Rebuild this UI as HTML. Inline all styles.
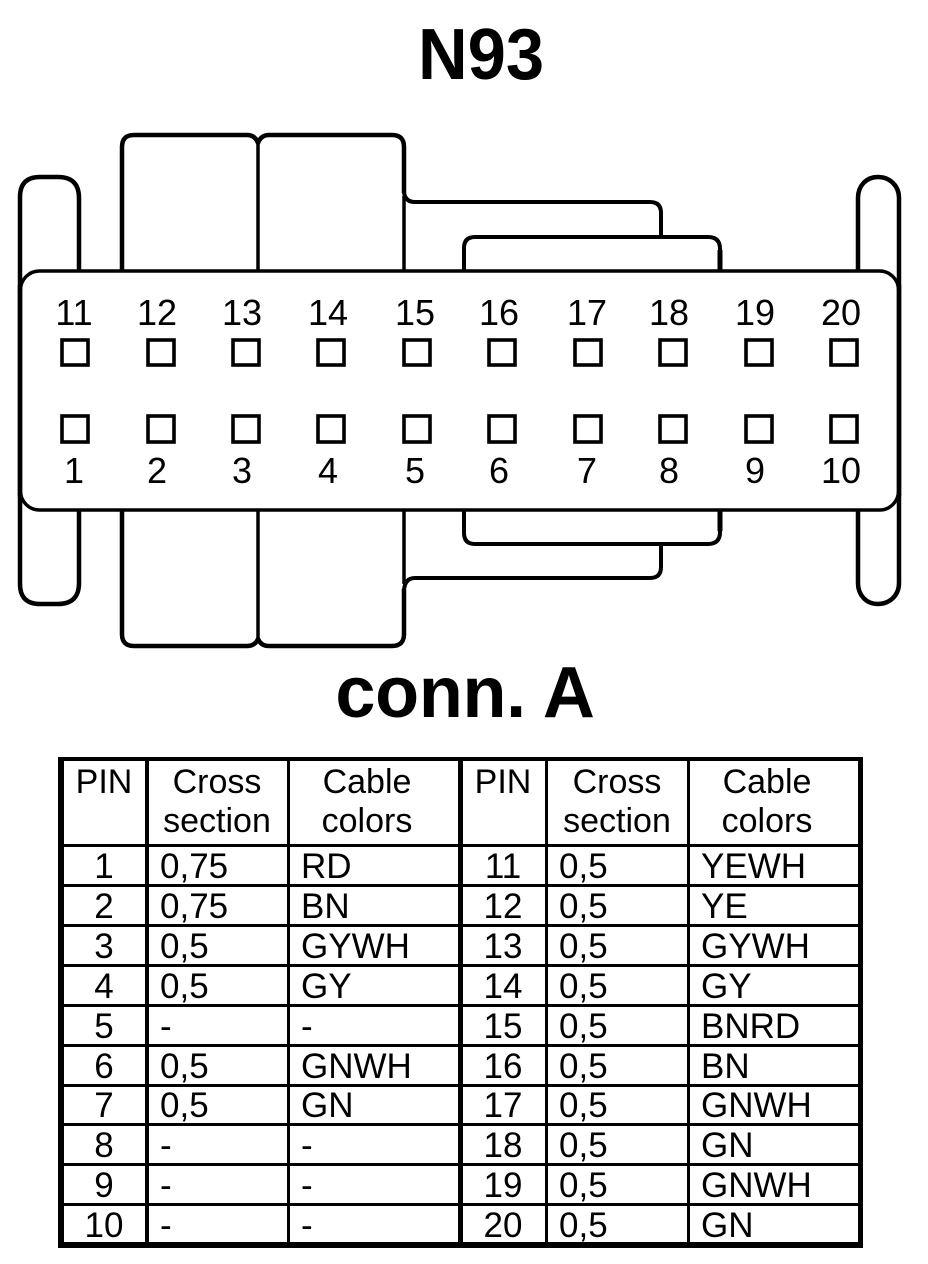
<!DOCTYPE html>
<html>
<head>
<meta charset="utf-8">
<style>
html,body{margin:0;padding:0;background:#fff;width:928px;height:1264px;overflow:hidden}
svg{display:block}
text{font-family:"Liberation Sans",Arial,sans-serif;fill:#000}
.t{font-size:72px;font-weight:bold;text-anchor:middle}
.n{font-size:36px;text-anchor:middle}
.h{font-size:34px;text-anchor:middle}
.c{font-size:35px;text-anchor:middle}
.l{font-size:35px}
</style>
</head>
<body>
<svg width="928" height="1264" viewBox="0 0 928 1264" xmlns="http://www.w3.org/2000/svg">
<rect width="928" height="1264" fill="#fff"/>
<text class="t" transform="translate(481 79) scale(0.955 1)" x="0" y="0">N93</text>
<text class="t" x="465" y="717" letter-spacing="-0.300">conn. A</text>

<g fill="none" stroke="#000" stroke-linejoin="round">
<!-- latches -->
<path d="M79,272 V198 Q79,177 58,177 H40 Q20,177 20,197 V584 Q20,604 40,604 H58 Q79,604 79,583 V510" stroke-width="4.500"/>
<path d="M858,272 V198 C858,186 866,177 878,177 C890,177 899,186 899,198 V583 C899,595 890,604 878,604 C866,604 858,595 858,583 V510" stroke-width="4.500"/>
<!-- top tabs -->
<path d="M122,271 V147 Q122,135 134,135 H247 Q255,135 258,143 Q261,135 269,135 H392 Q404,135 404,147 V193" stroke-width="4.500"/>
<path d="M258,143 V271" stroke-width="3.500"/>
<path d="M404,192 Q405,202 415,202 H650 Q661,202 661,213 V237" stroke-width="4"/>
<path d="M404,196 V271" stroke-width="3.500"/>
<path d="M464,271 V248 Q464,237 475,237 H708 Q720,237 720,249 V271" stroke-width="4"/>
<path d="M720,250 V271" stroke-width="5"/>
<!-- bottom tabs -->
<path d="M122,510 V634 Q122,646 134,646 H247 Q255,646 258,639 Q261,646 269,646 H392 Q404,646 404,634 V589" stroke-width="4.500"/>
<path d="M258,639 V510" stroke-width="3.500"/>
<path d="M404,590 Q405,578 415,578 H650 Q661,578 661,567 V545" stroke-width="4"/>
<path d="M404,584 V510" stroke-width="3.500"/>
<path d="M464,510 V533 Q464,544 475,544 H708 Q720,544 720,532 V510" stroke-width="4"/>
<path d="M720,531 V510" stroke-width="5"/>
<!-- body -->
<rect x="20.500" y="271" width="878" height="239" rx="19" ry="19" fill="#fff" stroke-width="3.500"/>
<path d="M20,285 V496" stroke-width="4.500"/>
<path d="M899,285 V496" stroke-width="4.500"/>
<!-- pins -->
<g stroke-width="3.600" fill="#fff" stroke-linejoin="miter">
<rect x="62" y="340" width="26" height="25"/><rect x="148" y="340" width="26" height="25"/><rect x="233" y="340" width="26" height="25"/><rect x="318" y="340" width="26" height="25"/><rect x="404" y="340" width="26" height="25"/>
<rect x="489" y="340" width="26" height="25"/><rect x="575" y="340" width="26" height="25"/><rect x="660" y="340" width="26" height="25"/><rect x="746" y="340" width="26" height="25"/><rect x="831" y="340" width="26" height="25"/>
<rect x="62" y="416" width="26" height="26"/><rect x="148" y="416" width="26" height="26"/><rect x="233" y="416" width="26" height="26"/><rect x="318" y="416" width="26" height="26"/><rect x="404" y="416" width="26" height="26"/>
<rect x="489" y="416" width="26" height="26"/><rect x="575" y="416" width="26" height="26"/><rect x="660" y="416" width="26" height="26"/><rect x="746" y="416" width="26" height="26"/><rect x="831" y="416" width="26" height="26"/>
</g>
</g>

<!-- pin numbers -->
<text class="n" x="74" y="325">11</text><text class="n" x="157" y="325">12</text><text class="n" x="242" y="325">13</text><text class="n" x="328" y="325">14</text><text class="n" x="415" y="325">15</text>
<text class="n" x="499" y="325">16</text><text class="n" x="587" y="325">17</text><text class="n" x="669" y="325">18</text><text class="n" x="755" y="325">19</text><text class="n" x="841" y="325">20</text>
<text class="n" x="74" y="483">1</text><text class="n" x="157" y="483">2</text><text class="n" x="242" y="483">3</text><text class="n" x="328" y="483">4</text><text class="n" x="415" y="483">5</text>
<text class="n" x="499" y="483">6</text><text class="n" x="587" y="483">7</text><text class="n" x="669" y="483">8</text><text class="n" x="755" y="483">9</text><text class="n" x="841" y="483">10</text>

<!-- table -->
<g fill="#000" shape-rendering="crispEdges">
<rect x="58" y="757" width="805" height="4"/>
<rect x="58" y="1242" width="805" height="6"/>
<rect x="58" y="757" width="6" height="491"/>
<rect x="858" y="757" width="5" height="491"/>
<rect x="145" y="757" width="4" height="491"/>
<rect x="287" y="757" width="3" height="491"/>
<rect x="458" y="757" width="5" height="491"/>
<rect x="545" y="757" width="3" height="491"/>
<rect x="687" y="757" width="3" height="491"/>
<rect x="58" y="844" width="805" height="3"/>
<rect x="58" y="884" width="805" height="3"/>
<rect x="58" y="924" width="805" height="3"/>
<rect x="58" y="964" width="805" height="3"/>
<rect x="58" y="1004" width="805" height="3"/>
<rect x="58" y="1044" width="805" height="3"/>
<rect x="58" y="1084" width="805" height="3"/>
<rect x="58" y="1123" width="805" height="3"/>
<rect x="58" y="1163" width="805" height="3"/>
<rect x="58" y="1203" width="805" height="3"/>
</g>

<text class="h" x="104" y="793">PIN</text>
<text class="h" x="217" y="793">Cross</text><text class="h" x="217" y="832">section</text>
<text class="h" x="367" y="793">Cable</text><text class="h" x="367" y="832">colors</text>
<text class="h" x="503" y="793">PIN</text>
<text class="h" x="617" y="793">Cross</text><text class="h" x="617" y="832">section</text>
<text class="h" x="767" y="793">Cable</text><text class="h" x="767" y="832">colors</text>

<text class="c" x="104" y="878">1</text><text class="l" x="160" y="878">0,75</text><text class="l" x="301" y="878">RD</text>
<text class="c" x="503" y="878">11</text><text class="l" x="559" y="878">0,5</text><text class="l" x="701" y="878">YEWH</text>

<text class="c" x="104" y="918">2</text><text class="l" x="160" y="918">0,75</text><text class="l" x="301" y="918">BN</text>
<text class="c" x="503" y="918">12</text><text class="l" x="559" y="918">0,5</text><text class="l" x="701" y="918">YE</text>

<text class="c" x="104" y="958">3</text><text class="l" x="160" y="958">0,5</text><text class="l" x="301" y="958">GYWH</text>
<text class="c" x="503" y="958">13</text><text class="l" x="559" y="958">0,5</text><text class="l" x="701" y="958">GYWH</text>

<text class="c" x="104" y="998">4</text><text class="l" x="160" y="998">0,5</text><text class="l" x="301" y="998">GY</text>
<text class="c" x="503" y="998">14</text><text class="l" x="559" y="998">0,5</text><text class="l" x="701" y="998">GY</text>

<text class="c" x="104" y="1038">5</text><text class="l" x="160" y="1038">-</text><text class="l" x="301" y="1038">-</text>
<text class="c" x="503" y="1038">15</text><text class="l" x="559" y="1038">0,5</text><text class="l" x="701" y="1038">BNRD</text>

<text class="c" x="104" y="1078">6</text><text class="l" x="160" y="1078">0,5</text><text class="l" x="301" y="1078">GNWH</text>
<text class="c" x="503" y="1078">16</text><text class="l" x="559" y="1078">0,5</text><text class="l" x="701" y="1078">BN</text>

<text class="c" x="104" y="1117">7</text><text class="l" x="160" y="1117">0,5</text><text class="l" x="301" y="1117">GN</text>
<text class="c" x="503" y="1117">17</text><text class="l" x="559" y="1117">0,5</text><text class="l" x="701" y="1117">GNWH</text>

<text class="c" x="104" y="1157">8</text><text class="l" x="160" y="1157">-</text><text class="l" x="301" y="1157">-</text>
<text class="c" x="503" y="1157">18</text><text class="l" x="559" y="1157">0,5</text><text class="l" x="701" y="1157">GN</text>

<text class="c" x="104" y="1197">9</text><text class="l" x="160" y="1197">-</text><text class="l" x="301" y="1197">-</text>
<text class="c" x="503" y="1197">19</text><text class="l" x="559" y="1197">0,5</text><text class="l" x="701" y="1197">GNWH</text>

<text class="c" x="104" y="1237">10</text><text class="l" x="160" y="1237">-</text><text class="l" x="301" y="1237">-</text>
<text class="c" x="503" y="1237">20</text><text class="l" x="559" y="1237">0,5</text><text class="l" x="701" y="1237">GN</text>
</svg>
</body>
</html>
